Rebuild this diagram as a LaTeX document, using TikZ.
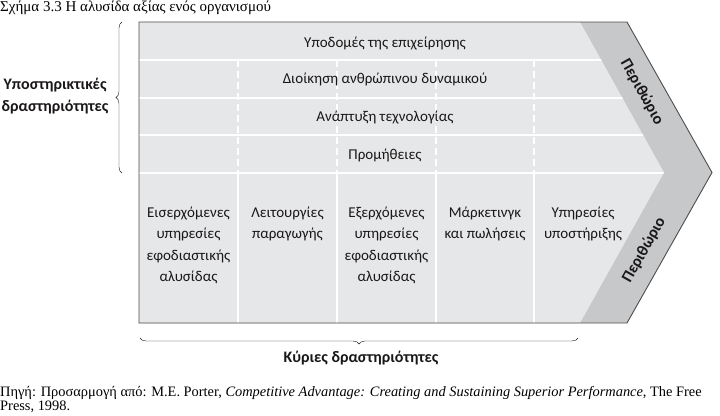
\documentclass[tikz,border=0pt]{standalone}
\usepackage{fontspec}
\setmainfont{Liberation Serif}
\newfontfamily\chainfont{Carlito}
\usetikzlibrary{calc}
\usetikzlibrary{decorations.pathreplacing}

\definecolor{cellgray}{HTML}{E6E7E8}
\definecolor{margingray}{HTML}{C7C8CA}
\definecolor{edgegray}{HTML}{4D4D4D}
\definecolor{inkgray}{HTML}{1A1718}

\tikzset{
  activity/.style={font=\chainfont\fontsize{15}{21.5}\selectfont, text=inkgray, align=center},
  groupname/.style={font=\chainfont\bfseries\fontsize{16}{22}\selectfont, text=inkgray, align=center},
  divider/.style={white, line width=1.3pt},
  brace/.style={decorate, decoration={brace, amplitude=6pt}, thin, inkgray}
}

\begin{document}
\begin{tikzpicture} [x=1pt, y=-1pt]
\useasboundingbox (0,0) rectangle (720,415);
% chevron: margin band and inner area
\fill[margingray] (139,22)--(627,22)--(712,172.5)--(627,323)--(139,323)--cycle;
\fill[cellgray] (139,22)--(580,22)--(664,172.5)--(580,323)--(139,323)--cycle;
\begin{scope}
\clip (139,22)--(580,22)--(664,172.5)--(580,323)--(139,323)--cycle;
\foreach \y in {60,98,135,173} {
 \draw[divider] (139,\y) -- (720,\y);
}
\foreach \x in {238,337,436,534} {
 \draw[divider, dash pattern=on 7pt off 4pt] (\x,60) -- (\x,173);
 \draw[divider] (\x,173) -- (\x,323);
}
\end{scope}
\draw[edgegray, line width=0.9pt] (139,22)--(627,22)--(712,172.5)--(627,323)--(139,323)--cycle;

% support activities
\node[activity] (infra) at (385,43) {Υποδομές της επιχείρησης};
\node[activity] (hrm) at (385,79) {Διοίκηση ανθρώπινου δυναμικού};
\node[activity] (tech) at (385,117) {Ανάπτυξη τεχνολογίας};
\node[activity] (procure) at (385,155) {Προμήθειες};

% primary activities
\node[activity, anchor=north] (inbound) at (188.5,203) {Εισερχόμενες\\υπηρεσίες\\εφοδιαστικής\\αλυσίδας};
\node[activity, anchor=north] (operations) at (287.5,203) {Λειτουργίες\\παραγωγής};
\node[activity, anchor=north] (outbound) at (386.5,203) {Εξερχόμενες\\υπηρεσίες\\εφοδιαστικής\\αλυσίδας};
\node[activity, anchor=north] (marketing) at (485,203) {Μάρκετινγκ\\και πωλήσεις};
\node[activity, anchor=north] (service) at (583,203) {Υπηρεσίες\\υποστήριξης};

% margin
\node[groupname, rotate=-60.5] (margintop) at (642,92) {Περιθώριο};
\node[groupname, rotate=60.5] (marginbottom) at (644,250) {Περιθώριο};

% braces
\coordinate (supporttop) at (122,22);
\coordinate (supportbottom) at (122,173);
\draw[brace] (supportbottom) -- (supporttop);
\node[groupname, anchor=east] (support) at (112,96) {Υποστηρικτικές\\δραστηριότητες};
\coordinate (primaryleft) at (140,338);
\coordinate (primaryright) at (578,338);
\draw[brace] (primaryright) -- (primaryleft);
\node[groupname] (primary) at (361,358) {Κύριες δραστηριότητες};

% caption and source
\node[anchor=base west, inner sep=0pt, font=\fontsize{15}{15}\selectfont] (caption) at (0,12) {Σχήμα 3.3 Η αλυσίδα αξίας ενός οργανισμού};
\node[anchor=base west, inner sep=0pt, align=left, font=\fontsize{14.4}{12.5}\selectfont] (source) at (0,410) {Πηγή: Προσαρμογή από: M.E. Porter, \textit{Competitive Advantage: Creating and Sustaining Superior Performance}, The Free\\Press, 1998.};
\end{tikzpicture}
\end{document}
